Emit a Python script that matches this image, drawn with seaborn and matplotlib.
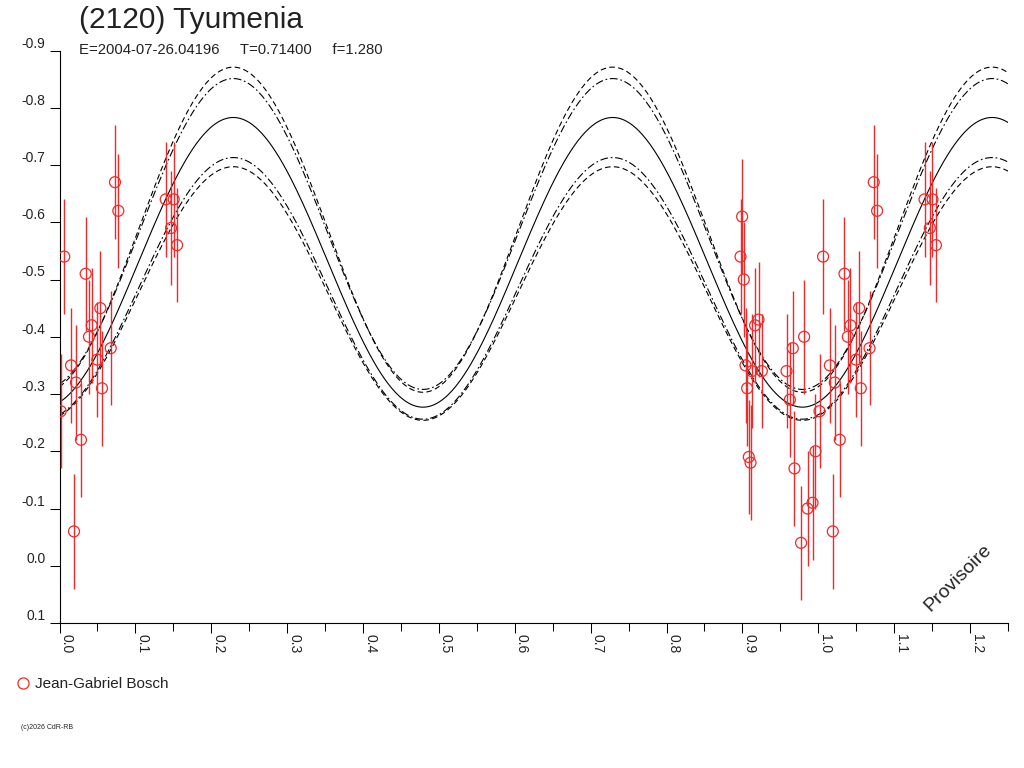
import numpy as np
import pandas as pd
import seaborn as sns
import matplotlib
matplotlib.use('Agg')
import matplotlib.pyplot as plt
from matplotlib.lines import Line2D

sns.set_theme(style='white')
plt.rcParams['font.family'] = ['Liberation Sans', 'DejaVu Sans']
plt.rcParams['axes.unicode_minus'] = False

red = '#ee2a2a'

# observations, phase 0.00-0.16 (shown again at phase+1)
phase_a = [0.0016, 0.0063, 0.0152, 0.0191, 0.0217, 0.0283, 0.0345, 0.0389, 0.0424, 0.0498,
           0.0538, 0.0560, 0.0675, 0.0731, 0.0775, 0.1400, 0.1470, 0.1505, 0.1550]
mag_a = [-0.27, -0.54, -0.35, -0.06, -0.32, -0.22, -0.51, -0.40, -0.42, -0.36,
         -0.45, -0.31, -0.38, -0.67, -0.62, -0.64, -0.59, -0.64, -0.56]

# observations, phase 0.89-1.00
phase_b = [0.8975, 0.8996, 0.9018, 0.9041, 0.9062, 0.9084, 0.9107, 0.9124, 0.9167, 0.9212,
           0.9256, 0.9581, 0.9625, 0.9664, 0.9686, 0.9773, 0.9813, 0.9858, 0.9924, 0.9963]
mag_b = [-0.54, -0.61, -0.50, -0.35, -0.31, -0.19, -0.18, -0.34, -0.42, -0.43,
         -0.34, -0.34, -0.29, -0.38, -0.17, -0.04, -0.40, -0.10, -0.11, -0.20]

err_a = [0.10] * len(phase_a)
err_b = [0.10] * len(phase_b)

# fitted light curve (2 maxima per period): mean, half amplitude, phase of maximum
curve_names = ['fit', 'hi_dash', 'hi_dashdot', 'lo_dashdot', 'lo_dash']
curve_mean = [-0.530, -0.587, -0.5795, -0.4845, -0.4755]
curve_amp = [0.253, 0.284, 0.2715, 0.2285, 0.2215]
curve_peak = 0.229

x_ticks = [0.0, 0.1, 0.2, 0.3, 0.4, 0.5, 0.6, 0.7, 0.8, 0.9, 1.0, 1.1, 1.2]
y_ticks = [-0.9, -0.8, -0.7, -0.6, -0.5, -0.4, -0.3, -0.2, -0.1, 0.0, 0.1]

title = '(2120) Tyumenia'
subtitle = 'E=2004-07-26.04196     T=0.71400     f=1.280'
observer = 'Jean-Gabriel Bosch'

obs = pd.DataFrame({'phase': phase_a + phase_b, 'mag': mag_a + mag_b, 'err': err_a + err_b})
wrap = obs[obs['phase'] + 1 <= 1.25].assign(phase=lambda d: d['phase'] + 1)
pts = pd.concat([obs, wrap], ignore_index=True)

grid = np.linspace(0, 1.25, 800)
rows = []
for name, m0, a in zip(curve_names, curve_mean, curve_amp):
    rows.append(pd.DataFrame({'phase': grid,
                              'mag': m0 - a * np.cos(4 * np.pi * (grid - curve_peak)),
                              'curve': name}))
curves = pd.concat(rows, ignore_index=True)

fig = plt.figure(figsize=(10.24, 7.68), dpi=100)
ax = fig.add_axes([59.5 / 1024, 1 - 623 / 768, (1008 - 59.5) / 1024, (623 - 50.5) / 768])

dashes = {'fit': '', 'hi_dash': (5, 3), 'lo_dash': (5, 3),
          'hi_dashdot': (7, 2.5, 1.5, 2.5), 'lo_dashdot': (7, 2.5, 1.5, 2.5)}
sns.lineplot(data=curves, x='phase', y='mag', style='curve', dashes=dashes,
             color='black', linewidth=0.8, estimator=None, sort=False, legend=False, ax=ax)

ax.errorbar(pts['phase'], pts['mag'], yerr=pts['err'], fmt='none',
            ecolor=red, elinewidth=1.0, capsize=0, zorder=3)
sns.scatterplot(data=pts, x='phase', y='mag', marker='o', s=62,
                facecolors='none', edgecolor=red, linewidth=0.9, legend=False, ax=ax, zorder=4)

ax.set_xlim(0, 1.25)
ax.set_ylim(0.1, -0.9)
ax.set_xlabel('')
ax.set_ylabel('')

ax.set_xticks(x_ticks, ['%.1f' % v for v in x_ticks])
ax.set_xticks([v + 0.05 for v in x_ticks], minor=True)
ax.set_yticks(y_ticks, ['%.1f' % v for v in y_ticks])

ax.tick_params(axis='x', which='major', bottom=True, length=7.2, width=0.75,
               color='black', direction='out', pad=1, labelsize=10, labelcolor='#222222')
ax.tick_params(axis='x', which='minor', bottom=True, length=5.8, width=0.75,
               color='black', direction='out')
ax.tick_params(axis='y', which='major', left=True, length=7.2, width=0.75,
               color='black', direction='out', pad=3, labelsize=10, labelcolor='#222222')
for lbl in ax.get_xticklabels():
    lbl.set_rotation(-90)
    lbl.set_ha('left')
    lbl.set_va('top')
for lbl in ax.get_yticklabels():
    lbl.set_va('bottom')

for side in ['top', 'right']:
    ax.spines[side].set_visible(False)
for side in ['left', 'bottom']:
    ax.spines[side].set_color('black')
    ax.spines[side].set_linewidth(0.8)

fig.text(79 / 1024, 1 - 28 / 768, title, fontsize=21.5, color='#222222', va='baseline')
fig.text(79 / 1024, 1 - 54 / 768, subtitle, fontsize=10.7, color='#222222', va='baseline')
fig.text(958 / 1024, 1 - 578 / 768, 'Provisoire', fontsize=14, rotation=45,
         ha='center', va='center', color='#222222')
fig.text(21 / 1024, 1 - 729 / 768, '(c)2026 CdR-RB', fontsize=5, color='#222222', va='baseline')

handle = Line2D([], [], marker='o', ls='none', mfc='none', mec=red, ms=8, mew=0.9)
fig.legend([handle], [observer], loc='center left', bbox_to_anchor=(0.002, 1 - 684 / 768),
           frameon=False, fontsize=11, handlelength=1.0, handletextpad=0.25,
           labelcolor='#222222')

fig.savefig('out.png', dpi=100)
